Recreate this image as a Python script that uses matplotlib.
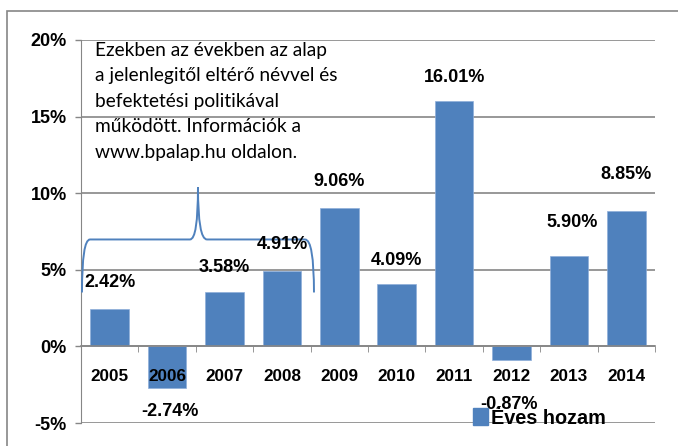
import numpy as np
import matplotlib.pyplot as plt
from matplotlib.patches import Rectangle, PathPatch
from matplotlib.path import Path

plt.rcParams['font.family'] = ['Liberation Sans', 'DejaVu Sans']

# data
years = ['2005', '2006', '2007', '2008', '2009', '2010', '2011', '2012', '2013', '2014']
returns = [2.42, -2.74, 3.58, 4.91, 9.06, 4.09, 16.01, -0.87, 5.90, 8.85]
yticks = [-5, 0, 5, 10, 15, 20]
note = ("Ezekben az években az alap\n"
        "a jelenlegitől eltérő névvel és\n"
        "befektetési politikával\n"
        "működött. Információk a\n"
        "www.bpalap.hu oldalon.")
legend_label = "Éves hozam"
brace_years = ('2005', '2008')

# label offsets (points) - placed by hand in the original
lab_dy = [19, -17, 17, 19, 19, 17, 17, -32, 24, 26]
lab_dx = [0, 2, 0, 0, 0, 0, 0, -2, 2, 0]

blue = '#4F81BD'
grid_c = '#868686'

fig = plt.figure(figsize=(6.78, 4.46), dpi=100)
ax = fig.add_axes([81/678, 1 - 423/446, 574/678, 383/446])

x = np.arange(len(years))
ax.bar(x, returns, width=0.67, color=blue, edgecolor='#8FAEDA', linewidth=0.5, zorder=2)

ax.set_xlim(-0.5, len(years) - 0.5)
ax.set_ylim(-5, 20)
ax.set_yticks(yticks)
ax.set_yticklabels([f"{v}%" for v in yticks], fontsize=13, fontweight='bold')
ax.yaxis.grid(True, color=grid_c, linewidth=1.2)
ax.tick_params(axis='y', length=4.3, width=1, color=grid_c, pad=6)
ax.yaxis.set_zorder(0.5)

ax.spines['top'].set_visible(False)
ax.spines['right'].set_visible(False)
ax.spines['left'].set_color(grid_c)
ax.spines['bottom'].set_position(('data', 0))
ax.spines['bottom'].set_color(grid_c)
ax.spines['bottom'].set_linewidth(1.2)
ax.spines['bottom'].set_zorder(4)

ax.set_xticks(x)
ax.set_xticklabels(years, fontsize=12.3, fontweight='bold')
ax.set_xticks(np.arange(len(years) + 1) - 0.5, minor=True)
ax.tick_params(axis='x', which='major', length=0, pad=16.5)
ax.tick_params(axis='x', which='minor', length=4, color=grid_c, direction='out')
ax.xaxis.set_zorder(4)

# value labels
for i, v in enumerate(returns):
    ax.annotate(f"{v:.2f}%", (x[i], v), xytext=(lab_dx[i], lab_dy[i]),
                textcoords='offset points', ha='center', va='center',
                fontsize=13, fontweight='bold', zorder=5)

# note text
ax.text(0.024, 0.995, note, transform=ax.transAxes, ha='left', va='top',
        fontsize=13.8, linespacing=1.6, zorder=5, family=['Lato', 'DejaVu Sans'])

# curly brace over the first years
i0, i1 = years.index(brace_years[0]), years.index(brace_years[1])
xl, xr = i0 - 0.483, i1 + 0.559
xm = xl + 0.5 * (xr - xl)
yb, yp, ye = 6.98, 10.38, 3.52
verts = [(xl, ye), (xl, yb), (xl + 0.14, yb),
         (xm - 0.14, yb), (xm, yb), (xm, yp),
         (xm, yb), (xm + 0.157, yb),
         (xr - 0.157, yb), (xr, yb), (xr, ye)]
codes = [Path.MOVETO, Path.CURVE3, Path.CURVE3,
         Path.LINETO, Path.CURVE3, Path.CURVE3,
         Path.CURVE3, Path.CURVE3,
         Path.LINETO, Path.CURVE3, Path.CURVE3]
ax.add_patch(PathPatch(Path(verts, codes), fill=False, edgecolor=blue, linewidth=1.4, zorder=4))

# legend
handle = Rectangle((0, 0), 1, 1, color=blue)
fig.legend([handle], [legend_label], loc='center left', bbox_to_anchor=(473/678, 1 - 418/446),
           frameon=False, prop={'size': 14.3, 'weight': 'bold'}, handlelength=0.75,
           handleheight=0.95, handletextpad=0.15, borderpad=0, borderaxespad=0)

# outer chart border (only left and top visible)
fig.patches.append(Rectangle((7/678, -0.2), 1.2, 1.2 - 11/446, transform=fig.transFigure,
                             fill=False, edgecolor=grid_c, linewidth=1.2))

fig.savefig('out.png', dpi=100)
